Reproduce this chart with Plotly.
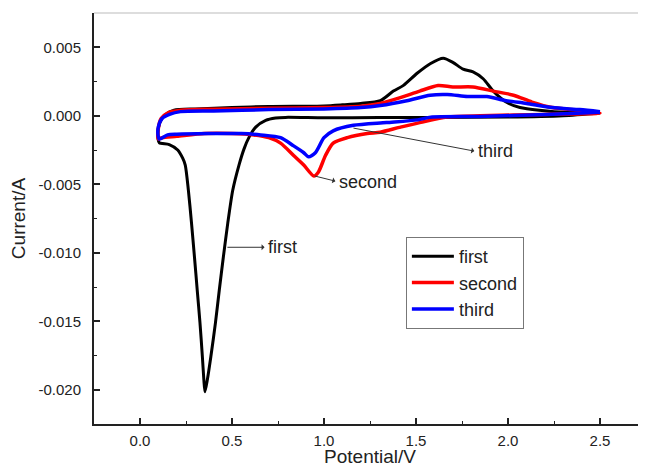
import plotly.graph_objects as go

# ---- data (potential in V, current in A) ----
first_v = [2.5, 2.3, 2.0, 1.6, 1.3, 1.0, 0.79, 0.737, 0.683, 0.629, 0.593, 0.566, 0.538,
           0.504, 0.477, 0.453, 0.431, 0.41, 0.385, 0.366, 0.353,
           0.347, 0.339, 0.326, 0.311, 0.296, 0.28, 0.263, 0.246, 0.232, 0.205, 0.159, 0.105,
           0.098, 0.10, 0.115, 0.14, 0.185, 0.3, 0.5, 0.7, 1.0, 1.1, 1.2, 1.306, 1.377, 1.43,
           1.506, 1.577, 1.648, 1.70, 1.756, 1.81, 1.865, 1.92, 1.99, 2.065, 2.17, 2.32, 2.5]
first_i = [0.0002, 0.0, -0.0001, -0.00012, -0.00013, -0.00015, -0.00012, -0.00017, -0.00034,
           -0.00083, -0.00156, -0.0024, -0.0036,
           -0.00544, -0.00784, -0.01031, -0.01272, -0.01512, -0.01759, -0.01927, -0.02015,
           -0.01927, -0.01759, -0.01512, -0.01272, -0.01031, -0.00784, -0.00544, -0.0036,
           -0.0031, -0.0025, -0.0021, -0.00197,
           -0.0017, -0.0009, -0.0003, 0.0001, 0.0004, 0.0005, 0.0006, 0.00068, 0.00072, 0.0008,
           0.0009, 0.0011, 0.0018, 0.0022, 0.0031, 0.0038, 0.0042, 0.0039, 0.0034, 0.0032,
           0.0027, 0.0018, 0.0010, 0.0006, 0.0004, 0.00025, 0.0003]

second_v = [2.5, 2.2, 1.85, 1.67, 1.52, 1.41, 1.306, 1.235, 1.127, 1.05, 1.008, 0.97, 0.945,
            0.89, 0.835, 0.764, 0.70, 0.62, 0.5, 0.35, 0.2, 0.12, 0.1,
            0.1, 0.115, 0.15, 0.22, 0.4, 0.7, 1.0, 1.2, 1.306, 1.41, 1.52, 1.62, 1.70, 1.81,
            1.92, 2.03, 2.13, 2.24, 2.39, 2.5]
second_i = [0.0002, 0.0001, 0.0, -0.0001, -0.0005, -0.00085, -0.0012, -0.0013, -0.0016, -0.0020,
            -0.0029, -0.0041, -0.0044, -0.0036, -0.0029, -0.0020, -0.0016, -0.0014, -0.0013,
            -0.0013, -0.0015, -0.0016, -0.0017,
            -0.0009, -0.0002, 0.0002, 0.0004, 0.00048, 0.00055, 0.0006, 0.0007, 0.0009, 0.0013,
            0.0018, 0.0022, 0.0021, 0.0021, 0.0018, 0.0015, 0.0010, 0.0006, 0.0004, 0.0002]

third_v = [2.5, 2.21, 1.85, 1.58, 1.51, 1.34, 1.16, 1.05, 1.0, 0.953, 0.916, 0.89, 0.835, 0.764,
           0.656, 0.55, 0.37, 0.2, 0.15, 0.105,
           0.098, 0.1, 0.12, 0.16, 0.22, 0.4, 0.7, 1.0, 1.2, 1.306, 1.45, 1.577, 1.67, 1.78,
           1.885, 1.99, 2.10, 2.24, 2.39, 2.5]
third_i = [0.00025, 0.0001, -0.00005, -0.0001, -0.0003, -0.0005, -0.0007, -0.0011, -0.0016,
           -0.0027, -0.0030, -0.0027, -0.0022, -0.0016, -0.0014, -0.0013, -0.0013, -0.00135,
           -0.0014, -0.0017,
           -0.0014, -0.0008, -0.0002, 0.0001, 0.0003, 0.00035, 0.00045, 0.0005, 0.0006, 0.00075,
           0.0011, 0.0015, 0.00155, 0.0014, 0.0014, 0.0011, 0.0009, 0.0006, 0.00045, 0.0003]

series_names = ["first", "second", "third"]
x_ticks = [0.0, 0.5, 1.0, 1.5, 2.0, 2.5]
x_tick_labels = ["0.0", "0.5", "1.0", "1.5", "2.0", "2.5"]
y_ticks = [0.005, 0.0, -0.005, -0.010, -0.015, -0.020]
y_tick_labels = ["0.005", "0.000", "-0.005", "-0.010", "-0.015", "-0.020"]

# annotation anchors: (label, curve point, text point)
notes = [
    ("first", 0.475, -0.0096, 0.685, -0.0096),
    ("second", 0.95, -0.0044, 1.07, -0.0048),
    ("third", 1.16, -0.0009, 1.825, -0.0026),
]

colors = ["#000000", "#ff0000", "#0000ff"]
widths = [3, 3.5, 3.5]

fig = go.Figure()
for name, xs, ys, c, w in zip(series_names, [first_v, second_v, third_v],
                              [first_i, second_i, third_i], colors, widths):
    fig.add_trace(go.Scatter(x=xs, y=ys, mode="lines", name=name,
                             line=dict(color=c, width=w, shape="spline", smoothing=0.7)))

font_main = "Liberation Sans, Arial, sans-serif"

for text, x0, y0, x1, y1 in notes:
    fig.add_annotation(x=x0, y=y0, ax=x1, ay=y1, axref="x", ayref="y", xref="x", yref="y",
                       text="", showarrow=True, arrowside="start", arrowhead=2,
                       arrowsize=1.2, arrowwidth=1, arrowcolor="#333333")
    fig.add_annotation(x=x1, y=y1, xref="x", yref="y", text=text, showarrow=False,
                       xanchor="left", yanchor="middle",
                       font=dict(family=font_main, size=18, color="#222222"))

# faint top frame line
fig.add_shape(type="line", xref="paper", yref="paper", x0=0, x1=1, y0=1, y1=1,
              line=dict(color="#dddddd", width=2))

# the page body adds an 8px offset, so the figure is 8px smaller than the window
fig.update_layout(
    width=638, height=459,
    margin=dict(l=86, r=0, t=5, b=43),
    paper_bgcolor="white", plot_bgcolor="white",
    font=dict(family=font_main, color="#222222"),
    showlegend=True,
    legend=dict(x=0.565, y=0.455, xanchor="left", yanchor="top",
                bordercolor="#777777", borderwidth=1, bgcolor="white",
                font=dict(family=font_main, size=18, color="#222222"),
                tracegroupgap=0, itemwidth=42),
)
fig.update_xaxes(range=[-0.25, 2.75], tickvals=x_ticks, ticktext=x_tick_labels,
                 ticks="inside", ticklen=6, tickwidth=1.5, tickcolor="#222222",
                 showline=True, linecolor="#222222", linewidth=2, showgrid=False, zeroline=False,
                 minor=dict(ticks="inside", ticklen=3, tickwidth=1.2, dtick=0.25, tick0=0,
                            tickcolor="#222222", showgrid=False),
                 tickfont=dict(size=15), ticklabelstandoff=2,
                 title=dict(text="Potential/V", font=dict(size=19), standoff=5),
                 automargin=False)
fig.update_yaxes(range=[-0.0225, 0.0075], tickvals=y_ticks, ticktext=y_tick_labels,
                 ticks="inside", ticklen=6, tickwidth=1.5, tickcolor="#222222",
                 showline=True, linecolor="#222222", linewidth=2, showgrid=False, zeroline=False,
                 minor=dict(ticks="inside", ticklen=3, tickwidth=1.2, dtick=0.0025, tick0=0,
                            tickcolor="#222222", showgrid=False),
                 tickfont=dict(size=15), ticklabelstandoff=8,
                 title=dict(text="Current/A", font=dict(size=19), standoff=10),
                 automargin=False)

fig.write_html("out.html")
